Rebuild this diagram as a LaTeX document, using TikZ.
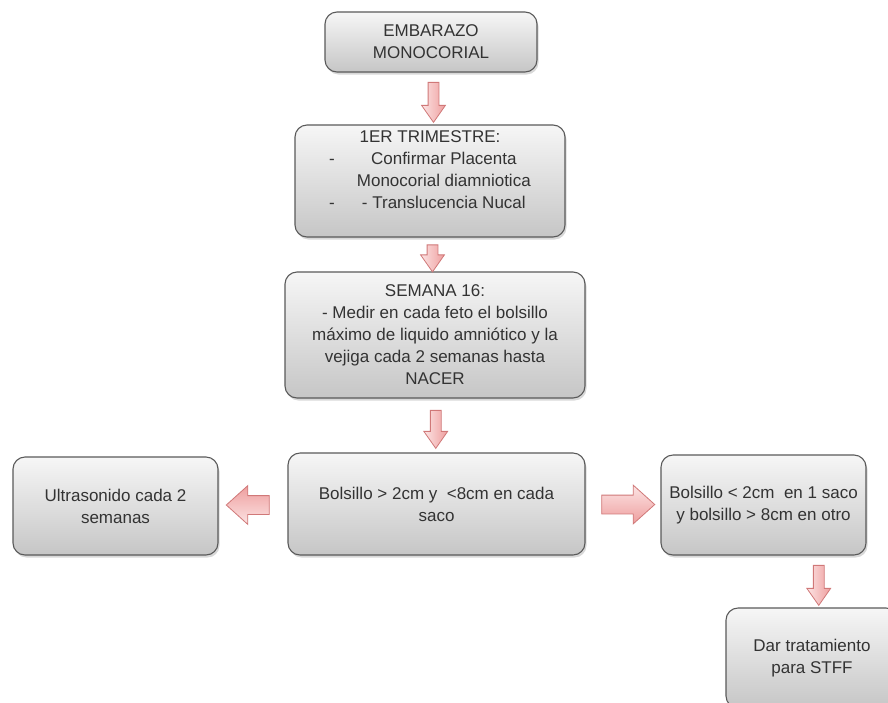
\documentclass[tikz,border=0pt]{standalone}
\usepackage{fontspec}
\setmainfont{Liberation Sans}
\usetikzlibrary{shapes.arrows,shadows,calc}
\definecolor{txt}{HTML}{333333}
\definecolor{boxline}{HTML}{5A5A5A}
\definecolor{boxtop}{HTML}{F6F6F6}
\definecolor{boxbot}{HTML}{C6C6C6}
\definecolor{arrline}{HTML}{D07878}
\definecolor{arrlight}{HTML}{FCE4E4}
\definecolor{arrdark}{HTML}{EE9E9E}
\begin{document}
\begin{tikzpicture}[x=1pt,y=-1pt,
  flowbox/.style={draw=boxline, line width=1.1pt, rounded corners=12pt,
    top color=boxtop, bottom color=boxbot, align=center, text=txt,
    font=\fontsize{17}{22}\selectfont, inner sep=0pt,
    drop shadow={shadow xshift=1.5pt, shadow yshift=-2.5pt, opacity=0.3, fill=gray}},
  blockarrow/.style={single arrow, draw=arrline, line width=0.8pt, inner xsep=0pt,
    single arrow head indent=0pt},
  downarrow/.style={blockarrow, rotate=-90, left color=arrlight, right color=arrdark,
    inner ysep=5pt, single arrow head extend=6.5pt, single arrow tip angle=70},
  leftarrow/.style={blockarrow, rotate=180, top color=arrdark, bottom color=arrlight,
    inner ysep=9pt, single arrow head extend=10pt, single arrow tip angle=84},
  rightarrow/.style={blockarrow, top color=arrlight, bottom color=arrdark,
    inner ysep=9pt, single arrow head extend=10pt, single arrow tip angle=84}]
\clip (0,0) rectangle (888,702);
\fill[white] (0,0) rectangle (888,702);

\node[flowbox, minimum width=212pt, minimum height=60pt] (b1) at (431,42)
  {EMBARAZO\\MONOCORIAL};
\node[flowbox, minimum width=270pt, minimum height=112pt] (b2) at (430,181)
  {\raisebox{10pt}[\height][\depth]{\begin{tabular}{@{}c@{}}1ER TRIMESTRE:\\
   \begin{tabular}{@{}l@{\hspace{22pt}}c@{}}
   - & Confirmar Placenta\\
     & Monocorial diamniotica\\
   - & - Translucencia Nucal
   \end{tabular}\end{tabular}}};
\node[flowbox, minimum width=300pt, minimum height=126pt] (b3) at (435,335)
  {SEMANA 16:\\- Medir en cada feto el bolsillo\\m\'aximo de liquido amni\'otico y la\\vejiga cada 2 semanas hasta\\NACER};
\node[flowbox, minimum width=297pt, minimum height=102pt] (b4) at (436.5,504)
  {Bolsillo > 2cm y\ \ <8cm en cada\\saco};
\node[flowbox, minimum width=205pt, minimum height=98pt] (bl) at (115.5,506)
  {Ultrasonido cada 2\\semanas};
\node[flowbox, minimum width=205pt, minimum height=100pt] (br) at (763.5,505)
  {Bolsillo < 2cm\ \ en 1 saco\\y bolsillo > 8cm en otro};
\node[flowbox, minimum width=172pt, minimum height=100pt] (bb) at (812,658)
  {Dar tratamiento\\para STFF};

\node[downarrow, minimum height=40pt] (a1) at ($(b1.south)!0.5!(b2.north)+(3,0)$) {};
\node[downarrow, minimum height=27pt] (a2) at ($(b2.south)!0.5!(b3.north)$) {};
\node[downarrow, minimum height=38pt] (a3) at ($(b3.south)!0.5!(b4.north)$) {};
\node[leftarrow, minimum height=43pt] (aL) at ($(bl.east)!0.5!(b4.west)$) {};
\node[rightarrow, minimum height=53pt] (aR) at ($(b4.east)!0.5!(br.west)$) {};
\node[downarrow, minimum height=40pt] (aB) at ($(br.south)!0.5!(bb.north)+(31,0)$) {};
\end{tikzpicture}
\end{document}
